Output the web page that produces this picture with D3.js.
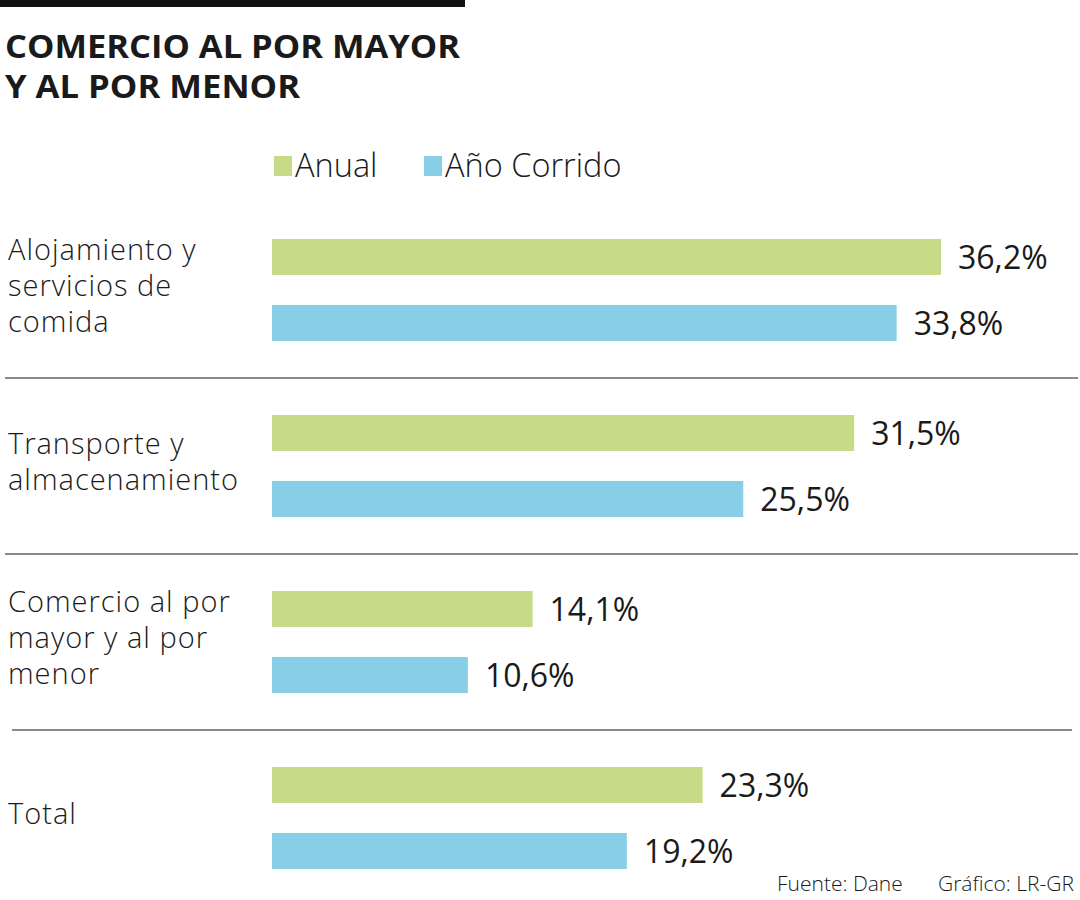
<!DOCTYPE html>
<html lang="es">
<head>
<meta charset="UTF-8">
<title>Comercio al por mayor y al por menor</title>
<style>
  body { margin: 0; background: #fff; }
  svg text { font-family: "Open Sans", "Noto Sans", sans-serif; fill: #1a1a1a; }
  .title { font-weight: 700; font-size: 32px; }
  .legend text { font-size: 32.5px; font-weight: 300; }
  .cat { font-size: 29px; font-weight: 300; letter-spacing: 1px; }
  .val { font-size: 32px; font-weight: 400; }
  .foot { font-size: 21px; font-weight: 300; }
  .sep { stroke: #8a8a8a; stroke-width: 2; }
</style>
</head>
<body>
<svg></svg>
<script src="https://cdn.jsdelivr.net/npm/d3@7"></script>
<script>
// datos
var categories = ["Alojamiento", "Transporte", "Comercio", "Total"]
var categoryLines = [
  ["Alojamiento y", "servicios de", "comida"],
  ["Transporte y", "almacenamiento"],
  ["Comercio al por", "mayor y al por", "menor"],
  ["Total"]
]
var series = ["Anual", "Año Corrido"]
var anual = [36.2, 31.5, 14.1, 23.3]
var anoCorrido = [33.8, 25.5, 10.6, 19.2]
var colors = ["#c6da88", "#88cee6"]

var W = 1080, H = 900
var svg = d3.select("svg").attr("width", W).attr("height", H)

var es = d3.formatLocale({decimal: ",", thousands: ".", grouping: [3], currency: ["", ""]})
var fmt = es.format(".1f")

// escalas
var x = d3.scaleLinear().domain([0, 36.2]).range([272, 941])
var y = d3.scaleBand().domain(categories).range([202, 906])
var ySub = d3.scaleBand().domain(series).range([-51, 51]).paddingInner(30 / 66)

// barra negra y título
svg.append("rect").attr("x", 0).attr("y", 0).attr("width", 465).attr("height", 7).attr("fill", "#111")
svg.append("text").attr("class", "title").attr("x", 5).attr("y", 58)
  .attr("textLength", 455).attr("lengthAdjust", "spacingAndGlyphs")
  .text("COMERCIO AL POR MAYOR")
svg.append("text").attr("class", "title").attr("x", 5).attr("y", 98)
  .attr("textLength", 295).attr("lengthAdjust", "spacingAndGlyphs")
  .text("Y AL POR MENOR")

// leyenda
var legend = svg.append("g").attr("class", "legend")
var lx = [274, 424]
series.forEach(function (s, i) {
  legend.append("rect").attr("x", lx[i]).attr("y", 156).attr("width", 18).attr("height", 20).attr("fill", colors[i])
  legend.append("text").attr("x", lx[i] + 21).attr("y", 177).text(s)
})

// separadores
categories.slice(0, -1).forEach(function (c, i) {
  var yy = y(c) + y.step()
  svg.append("line").attr("class", "sep")
    .attr("x1", i == 2 ? 12 : 5).attr("x2", i == 2 ? 1072 : 1078)
    .attr("y1", yy).attr("y2", yy)
})

// grupos
var rows = categories.map(function (c, i) {
  return {cat: c, lines: categoryLines[i], vals: [anual[i], anoCorrido[i]]}
})

var g = svg.selectAll(".grp").data(rows).enter().append("g")
  .attr("class", "grp")
  .attr("transform", function (d) { return "translate(0," + (y(d.cat) + y.bandwidth() / 2) + ")" })

g.append("text").attr("class", "cat")
  .selectAll("tspan").data(function (d) { return d.lines.map(function (l, k) { return {l: l, k: k, n: d.lines.length} }) })
  .enter().append("tspan")
  .attr("x", 8)
  .attr("y", function (d) { return (d.k - (d.n - 1) / 2) * 36 - 4 })
  .attr("dy", "0.35em")
  .text(function (d) { return d.l })

var bars = g.selectAll(".bar").data(function (d) {
  return d.vals.map(function (v, k) { return {s: series[k], v: v, k: k} })
}).enter()

bars.append("rect")
  .attr("x", x(0))
  .attr("y", function (d) { return ySub(d.s) })
  .attr("width", function (d) { return x(d.v) - x(0) })
  .attr("height", ySub.bandwidth())
  .attr("fill", function (d) { return colors[d.k] })

bars.append("text").attr("class", "val")
  .attr("x", function (d) { return x(d.v) + 17 })
  .attr("y", function (d) { return ySub(d.s) + ySub.bandwidth() / 2 })
  .attr("dy", "0.36em")
  .text(function (d) { return fmt(d.v) + "%" })

// fuente
svg.append("text").attr("class", "foot").attr("x", 777).attr("y", 891).text("Fuente: Dane")
svg.append("text").attr("class", "foot").attr("x", 938).attr("y", 891).text("Gráfico: LR-GR")
</script>
</body>
</html>
